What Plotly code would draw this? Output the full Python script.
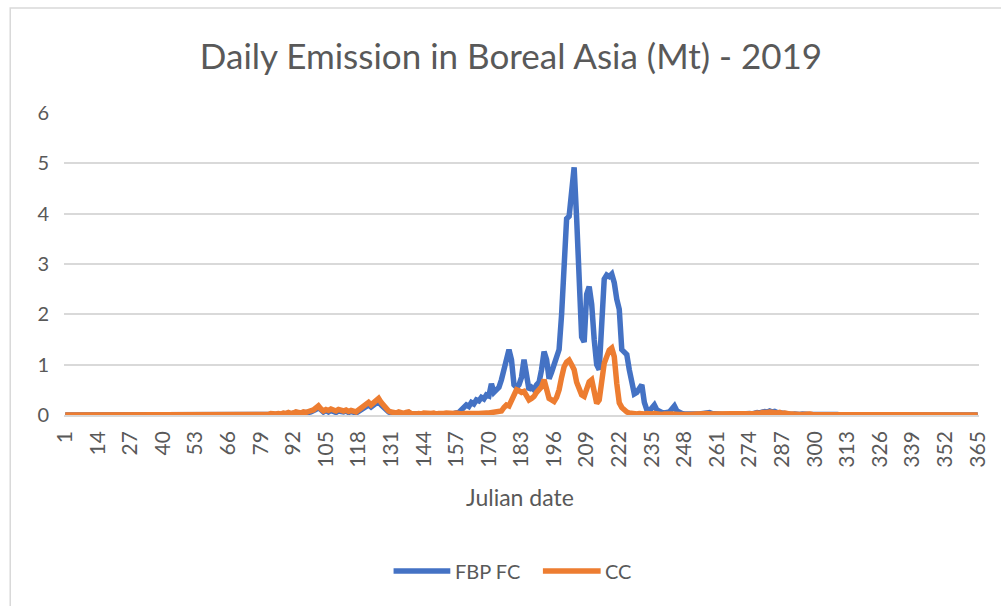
import plotly.graph_objects as go

# Julian days 1..365
days = list(range(1, 366))

# FBP FC daily emission (Mt), days 1-365, 20 values per row
fbp_fc = [
    0, 0, 0, 0, 0, 0, 0, 0, 0, 0, 0, 0, 0, 0, 0, 0, 0, 0, 0, 0,
    0, 0, 0, 0, 0, 0, 0, 0, 0, 0, 0, 0, 0, 0, 0, 0, 0, 0, 0, 0,
    0, 0, 0, 0, 0, 0, 0, 0, 0, 0, 0, 0, 0, 0, 0, 0, 0, 0, 0, 0,
    0, 0, 0, 0, 0, 0, 0, 0, 0, 0, 0, 0, 0, 0, 0, 0, 0, 0, 0.01, 0,
    0.01, 0.01, 0.02, 0.01, 0.01, 0.02, 0.01, 0.03, 0.02, 0.04, 0.02, 0.03, 0.05, 0.04, 0.03, 0.05, 0.04, 0.05, 0.06, 0.08,
    0.11, 0.15, 0.1, 0.06, 0.09, 0.06, 0.09, 0.07, 0.05, 0.08, 0.07, 0.06, 0.08, 0.05, 0.07, 0.06, 0.04, 0.07, 0.1, 0.14,
    0.18, 0.2, 0.16, 0.2, 0.25, 0.27, 0.2, 0.14, 0.09, 0.06, 0.04, 0.04, 0.03, 0.05, 0.03, 0.02, 0.04, 0.05, 0.02, 0.02,
    0.01, 0.02, 0.01, 0.03, 0.02, 0.01, 0.02, 0.03, 0.01, 0.02, 0.02, 0.03, 0.03, 0.02, 0.02, 0.03, 0.04, 0.05, 0.1, 0.15,
    0.2, 0.17, 0.25, 0.22, 0.3, 0.28, 0.35, 0.32, 0.4, 0.38, 0.62, 0.45, 0.5, 0.55, 0.7, 0.9, 1.2, 1.3, 1.1, 0.6,
    0.55, 0.6, 0.75, 1.1, 0.8, 0.5, 0.55, 0.5, 0.6, 0.65, 0.9, 1.26, 1.1, 0.72, 0.85, 1.03, 1.15, 1.3, 2.0, 2.95,
    3.9, 3.95, 4.5, 4.92, 3.9, 2.3, 1.55, 1.45, 2.4, 2.55, 2.2, 1.5, 1.0, 0.9, 1.8, 2.7, 2.78, 2.75, 2.8, 2.63,
    2.3, 2.1, 1.3, 1.25, 1.2, 0.9, 0.6, 0.42, 0.45, 0.55, 0.6, 0.25, 0.1, 0.08, 0.15, 0.2, 0.1, 0.06, 0.05, 0.04,
    0.05, 0.06, 0.12, 0.18, 0.08, 0.04, 0.03, 0.02, 0.03, 0.02, 0.02, 0.01, 0.02, 0.02, 0.03, 0.02, 0.04, 0.05, 0.03, 0.02,
    0.01, 0.02, 0.01, 0.01, 0.02, 0.01, 0.01, 0.02, 0.01, 0.02, 0.02, 0.03, 0.02, 0.03, 0.02, 0.04, 0.05, 0.04, 0.06, 0.07,
    0.06, 0.08, 0.06, 0.07, 0.05, 0.04, 0.05, 0.03, 0.02, 0.02, 0.01, 0.02, 0.01, 0.01, 0.02, 0.01, 0.01, 0.01, 0.01, 0.01,
    0.01, 0.01, 0.02, 0.01, 0.02, 0.03, 0.02, 0.01, 0.01, 0, 0.01, 0, 0, 0.01, 0, 0, 0, 0, 0, 0,
    0, 0, 0, 0, 0, 0, 0, 0, 0, 0, 0, 0, 0, 0, 0, 0, 0, 0, 0, 0,
    0, 0, 0, 0, 0, 0, 0, 0, 0, 0, 0, 0, 0, 0, 0, 0, 0, 0, 0, 0,
    0, 0, 0, 0, 0,
]

# CC daily emission (Mt), days 1-365, 20 values per row
cc = [
    0, 0, 0, 0, 0, 0, 0, 0, 0, 0, 0, 0, 0, 0, 0, 0, 0, 0, 0, 0,
    0, 0, 0, 0, 0, 0, 0, 0, 0, 0, 0, 0, 0, 0, 0, 0, 0, 0, 0, 0,
    0, 0, 0, 0, 0, 0, 0, 0, 0, 0, 0, 0, 0, 0, 0, 0, 0, 0, 0, 0,
    0, 0, 0, 0, 0, 0, 0, 0, 0, 0, 0, 0, 0, 0, 0, 0, 0, 0, 0.02, 0.01,
    0.02, 0.01, 0.03, 0.02, 0.02, 0.03, 0.02, 0.04, 0.03, 0.05, 0.03, 0.04, 0.06, 0.05, 0.04, 0.06, 0.05, 0.07, 0.08, 0.1,
    0.14, 0.18, 0.12, 0.08, 0.11, 0.09, 0.12, 0.1, 0.08, 0.11, 0.09, 0.08, 0.1, 0.07, 0.09, 0.08, 0.06, 0.1, 0.14, 0.18,
    0.22, 0.25, 0.2, 0.24, 0.3, 0.33, 0.25, 0.18, 0.12, 0.08, 0.06, 0.05, 0.04, 0.06, 0.04, 0.03, 0.05, 0.06, 0.03, 0.02,
    0.02, 0.03, 0.02, 0.04, 0.03, 0.02, 0.03, 0.04, 0.02, 0.03, 0.02, 0.03, 0.04, 0.03, 0.02, 0.03, 0.04, 0.02, 0.02, 0.03,
    0.02, 0.03, 0.03, 0.02, 0.03, 0.03, 0.04, 0.03, 0.04, 0.04, 0.05, 0.04, 0.05, 0.06, 0.08, 0.15, 0.2, 0.18, 0.3, 0.45,
    0.5, 0.48, 0.45, 0.47, 0.35, 0.3, 0.33, 0.37, 0.45, 0.5, 0.56, 0.7, 0.55, 0.33, 0.3, 0.27, 0.35, 0.5, 0.75, 0.96,
    1.05, 1.09, 1.0, 0.9, 0.65, 0.5, 0.4, 0.37, 0.5, 0.66, 0.7, 0.5, 0.23, 0.3, 0.7, 1.03, 1.16, 1.29, 1.33, 1.16,
    0.63, 0.24, 0.15, 0.1, 0.06, 0.04, 0.03, 0.03, 0.02, 0.03, 0.02, 0.02, 0.03, 0.02, 0.02, 0.03, 0.02, 0.02, 0.01, 0.02,
    0.01, 0.02, 0.02, 0.01, 0.02, 0.01, 0.01, 0.02, 0.01, 0.01, 0.02, 0.01, 0.02, 0.02, 0.03, 0.02, 0.03, 0.02, 0.02, 0.01,
    0.02, 0.01, 0.02, 0.02, 0.01, 0.02, 0.01, 0.01, 0.02, 0.02, 0.01, 0.02, 0.02, 0.03, 0.02, 0.03, 0.04, 0.03, 0.05, 0.04,
    0.05, 0.06, 0.05, 0.06, 0.04, 0.05, 0.03, 0.04, 0.02, 0.02, 0.02, 0.01, 0.02, 0.01, 0.01, 0.02, 0.01, 0.02, 0.01, 0.01,
    0.01, 0.01, 0.02, 0.01, 0.02, 0.02, 0.01, 0.01, 0.01, 0.01, 0.01, 0, 0.01, 0, 0, 0, 0, 0, 0, 0,
    0, 0, 0, 0, 0, 0, 0, 0, 0, 0, 0, 0, 0, 0, 0, 0, 0, 0, 0, 0,
    0, 0, 0, 0, 0, 0, 0, 0, 0, 0, 0, 0, 0, 0, 0, 0, 0, 0, 0, 0,
    0, 0, 0, 0, 0,
]

# category labels shown every 13 days
tick_days = [1, 14, 27, 40, 53, 66, 79, 92, 105, 118, 131, 144, 157, 170, 183,
             196, 209, 222, 235, 248, 261, 274, 287, 300, 313, 326, 339, 352, 365]
tick_labels = [str(d) for d in tick_days]

series_names = ["FBP FC", "CC"]
series_colors = ["#4472C4", "#ED7D31"]

TEXT = "#595959"
GRID = "#D9D9D9"
FONT = "Lato, 'Open Sans', sans-serif"

# plot-area geometry in pixels, used to place paper-referenced items
L, R, T, B = 64, 18, 113, 191
PW, PH = 1001 - L - R, 606 - T - B


def px_x(x):
    return (x - L) / PW


def px_y(y):
    return (606 - B - y) / PH


fig = go.Figure()
for name, ys, col in zip(series_names, [fbp_fc, cc], series_colors):
    fig.add_trace(go.Scatter(x=days, y=ys, name=name, mode="lines",
                             line=dict(color=col, width=5.5),
                             showlegend=False))

# legend drawn below the plot: a short line sample followed by its label
legend_items = [(395, 452, 455), (545, 603, 605)]
shapes = [dict(type="rect", xref="paper", yref="paper",
               x0=px_x(10), x1=1.2, y0=-1.0, y1=px_y(8),
               line=dict(color=GRID, width=1.5), layer="below")]
annotations = [dict(text="Julian date", xref="paper", yref="paper",
                    x=px_x(522), y=px_y(497),
                    xanchor="center", yanchor="middle", showarrow=False,
                    font=dict(size=23, color=TEXT, family=FONT))]
for (x0, x1, xt), name, col in zip(legend_items, series_names, series_colors):
    shapes.append(dict(type="line", xref="paper", yref="paper",
                       x0=px_x(x0), x1=px_x(x1), y0=px_y(571), y1=px_y(571),
                       line=dict(color=col, width=5.5)))
    annotations.append(dict(text=name, xref="paper", yref="paper",
                            x=px_x(xt), y=px_y(571), xanchor="left",
                            yanchor="middle", showarrow=False,
                            font=dict(size=20, color=TEXT, family=FONT)))

fig.update_layout(
    width=1001, height=606,
    margin=dict(l=L, r=R, t=T, b=B),
    paper_bgcolor="white", plot_bgcolor="white",
    font=dict(family=FONT, color=TEXT),
    title=dict(text="Daily Emission in Boreal Asia (Mt) - 2019",
               x=511 / 1001, xref="container", xanchor="center",
               y=1 - 57 / 606, yref="container", yanchor="middle",
               font=dict(size=35, color=TEXT, family=FONT)),
    showlegend=False,
    shapes=shapes,
    annotations=annotations,
)

fig.update_xaxes(range=[0.5, 365.5], tickmode="array",
                 tickvals=tick_days, ticktext=tick_labels, tickangle=-90,
                 tickfont=dict(size=21, color=TEXT), showgrid=False,
                 showline=True, linecolor=GRID, linewidth=1.5,
                 zeroline=False, ticks="", ticklabelstandoff=6)
fig.update_yaxes(range=[0, 6], dtick=1, tickfont=dict(size=20, color=TEXT),
                 showgrid=True, gridcolor=GRID, gridwidth=1.5,
                 zeroline=False, showline=False, ticks="",
                 ticklabelstandoff=14)

fig.write_html("out.html")
